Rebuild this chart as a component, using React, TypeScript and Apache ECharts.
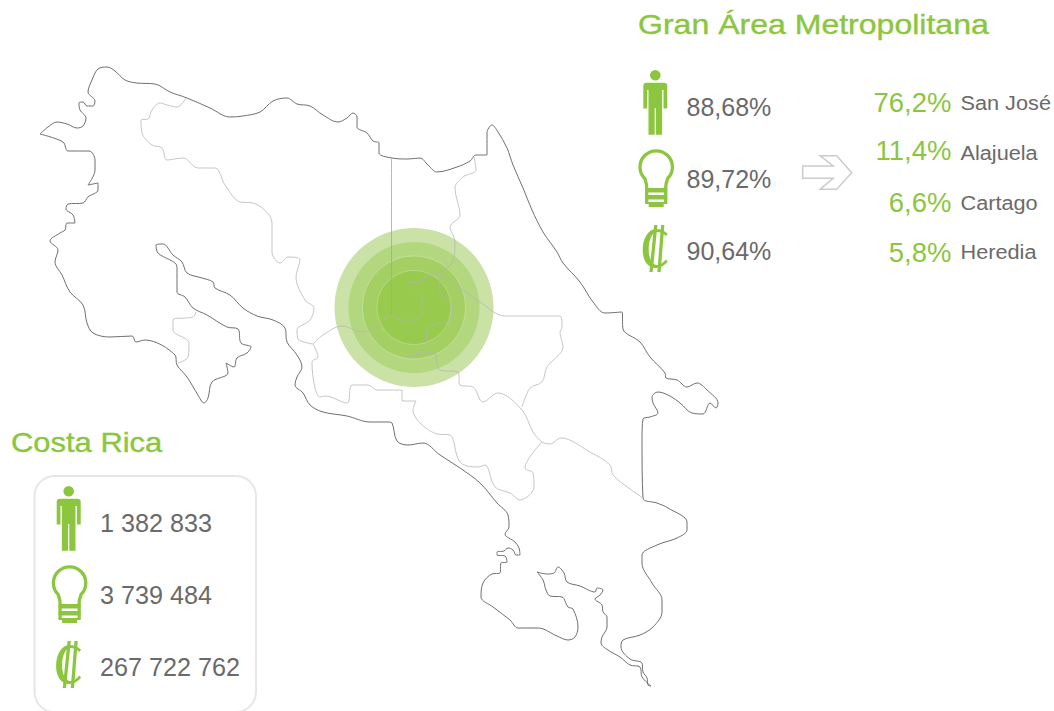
import React, { useEffect, useRef } from "react";
import * as echarts from "echarts";

const GREEN = "#8cc63f";
const TEXT = "#6a6a6a";

const titleMetro = "Gran Área Metropolitana";
const titleCountry = "Costa Rica";
const metroShares = ["88,68%", "89,72%", "90,64%"];
const countryTotals = ["1 382 833", "3 739 484", "267 722 762"];
const provincePercents = ["76,2%", "11,4%", "6,6%", "5,8%"];
const provinceNames = ["San José", "Alajuela", "Cartago", "Heredia"];

const bubbleCenter = [414, 307.5];
const bubbleDiameters = [159, 131, 103, 74];
const bubbleColors = ["#cbe2a7", "#b3d77f", "#a4cf63", "#98ca4e"];

const coast: number[][] = [
  [40,134],[48,127],[57,122],[67,124],[77,128],[83,126],[86,118],[80,110],[79,103],[83,102],[87,106],[93,106],[95,101],[88,92],[92,80],[98,69],[107,67],[115,71],[125,80],[137,83],[155,84],[170,92],[187,98],[210,108],[230,117],[243,116],[260,112],[273,101],[287,98],[297,104],[310,106],[323,115],[338,122],[347,118],[353,113],[357,117],[357,127],[367,133],[373,141],[379,143],[379,153],[392,158],[408,159],[420,158],[428,165],[437,172],[457,167],[470,161],[476,155],[487,155],[487,133],[492,125],[498,132],[507,148],[513,165],[523,188],[532,210],[543,232],[557,252],[563,263],[580,282],[593,302],[605,313],[622,312],[623,329],[640,342],[650,357],[665,373],[666,378],[677,380],[687,387],[697,383],[707,390],[718,403],[716,408],[710,403],[703,414],[692,413],[680,403],[670,396],[658,392],[652,397],[653,403],[658,413],[650,417],[643,419],[642,440],[643,498],[657,503],[668,508],[687,522],[687,530],[677,538],[657,545],[642,555],[642,563],[652,583],[662,600],[662,612],[653,627],[640,635],[623,640],[621,647],[630,659],[642,663],[643,672],[647,678],[648,685],[651,686],[642,677],[640,667],[630,665],[620,657],[608,650],[601,643],[602,637],[607,627],[607,617],[603,612],[602,605],[595,599],[600,595],[603,590],[597,588],[595,592],[580,586],[567,582],[564,573],[558,567],[554,573],[547,574],[537,572],[543,580],[546,590],[550,596],[562,597],[568,607],[573,609],[578,627],[575,637],[568,640],[557,636],[538,628],[518,628],[510,620],[493,607],[481,597],[483,583],[492,574],[500,573],[501,563],[507,562],[505,556],[497,555],[497,552],[504,551],[508,548],[513,550],[516,555],[520,555],[519,548],[515,542],[505,534],[509,527],[508,515],[497,503],[480,483],[460,468],[440,455],[423,443],[408,445],[397,441],[392,423],[388,422],[370,422],[347,416],[323,412],[310,405],[303,393],[295,385],[297,377],[302,367],[297,355],[287,342],[285,328],[273,320],[257,316],[243,308],[230,295],[215,288],[213,282],[202,278],[187,273],[182,262],[173,255],[163,244],[156,245],[158,253],[177,267],[177,292],[185,297],[193,308],[207,315],[227,327],[238,329],[241,343],[251,347],[247,353],[237,358],[234,367],[226,363],[228,373],[212,382],[208,398],[204,403],[198,395],[187,377],[177,365],[175,355],[145,340],[136,342],[132,336],[110,337],[93,333],[87,323],[83,305],[70,292],[62,275],[55,262],[58,250],[50,241],[60,233],[65,230],[67,223],[75,223],[73,215],[66,209],[68,204],[83,203],[88,197],[98,190],[98,183],[93,184],[88,185],[95,170],[95,160],[89,151],[68,151],[63,142],[40,134],
];
const borderNorthWest: number[][] = [
  [186,98],[177,107],[167,105],[160,103],[152,110],[148,119],[141,120],[142,133],[152,145],[162,148],[167,160],[183,158],[198,168],[215,168],[225,185],[240,202],[253,203],[272,223],[272,252],[280,263],[288,257],[300,260],[296,277],[305,300],[314,308],[310,320],[297,330],[298,339],[313,344],
];
const borderCentral: number[][] = [
  [313,344],[323,335],[342,326],[363,332],[377,327],[390,315],[407,322],[422,313],[422,300],[408,283],[420,282],[430,274],[440,275],[463,290],[480,302],[505,316],[560,316],[562,327],[560,332],[563,347],[547,367],[542,382],[530,388],[522,407],
];
const borderHeredia: number[][] = [[391.5,158],[391.5,315]];
const borderEast: number[][] = [
  [474,157],[476,170],[463,177],[455,188],[460,215],[450,227],[455,242],[452,263],[440,275],[439,287],[453,310],[450,320],[428,328],[425,347],[410,357],[433,352],[440,370],[458,372],[460,385],[473,387],[483,402],[498,393],[522,410],[533,432],[542,442],[550,444],[561,438],[590,452],[610,465],[613,475],[630,489],[643,498],
];
const borderSouth: number[][] = [
  [542,442],[525,468],[533,473],[534,487],[520,500],[510,493],[495,487],[485,465],[478,467],[460,462],[450,435],[437,434],[413,410],[416,401],[402,401],[402,390],[377,390],[368,385],[352,385],[347,403],[325,396],[320,397],[315,388],[312,362],[318,357],[313,344],
];
const borderNicoya: number[][] = [
  [196,312],[193,317],[173,320],[173,330],[189,343],[188,357],[178,363],
];
const innerBorders = [borderNorthWest, borderCentral, borderEast, borderSouth, borderNicoya];

const personPath =
  "M17.3,5.3 a5.3,5.3 0 1,0 -10.6,0 a5.3,5.3 0 1,0 10.6,0 Z " +
  "M0,16 Q0,12.7 3.3,12.7 H20.7 Q24,12.7 24,16 V38.5 H20.2 V20 H18.8 V64.7 H12.6 V38 H11.4 V64.7 H5.2 V20 H3.8 V38.5 H0 Z";
const bulbOutline = "M-9.5,36 V20 Q-9.5,17 -11.5,11.4 A16.2,16.2 0 1 1 11.5,11.4 Q9.5,17 9.5,20 V36";
const bulbBars =
  "M-11,21 H11 V25.5 H-11 Z M-11,28 H11 V32.5 H-11 Z M-11,35 H11 V37 H7.5 V40 H-7.5 V37 H-11 Z";
const colonCrescent =
  "M12.7,-16.3 C9,-20 5,-21 1,-21 C-7,-21 -12.3,-11 -12.3,0 C-12.3,11 -7,18 1,18 C6,18 10,15 12.7,11.5 L11,9.5 " +
  "C8,13 5,15 2,15 C-3,15 -6.3,8 -6.3,-1 C-6.3,-10 -3,-18 2,-18 C5.5,-18 8,-16.5 11,-14 Z";
const colonSlashes =
  "M-0.85,-25 H2.45 L-2.35,22 H-5.65 Z M6.05,-25 H9.35 L5.65,22 H2.35 Z";

echarts.graphic.registerShape("personIcon", echarts.graphic.extendPath(personPath, {}));
echarts.graphic.registerShape("bulbOutline", echarts.graphic.extendPath(bulbOutline, {}));
echarts.graphic.registerShape("bulbBars", echarts.graphic.extendPath(bulbBars, {}));
echarts.graphic.registerShape("colonCrescent", echarts.graphic.extendPath(colonCrescent, {}));
echarts.graphic.registerShape("colonSlashes", echarts.graphic.extendPath(colonSlashes, {}));

function iconSet(dx: number, dy: number): any[] {
  return [
    { type: "personIcon", x: 643.3 + dx, y: 70 + dy, style: { fill: GREEN } },
    { type: "bulbOutline", x: 656.2 + dx, y: 167 + dy, style: { fill: "none", stroke: GREEN, lineWidth: 3.3 } },
    { type: "bulbBars", x: 656.2 + dx, y: 167 + dy, style: { fill: GREEN } },
    { type: "colonCrescent", x: 655 + dx, y: 250 + dy, style: { fill: GREEN } },
    { type: "colonSlashes", x: 655 + dx, y: 250 + dy, style: { fill: GREEN } },
  ];
}

function label(text: string, x: number, y: number, size: number, fill: string, align = "left", scaleX = 1, bold = 0): any {
  return {
    type: "text",
    x,
    y,
    scaleX,
    style: {
      text,
      x: 0,
      y: 0,
      fill,
      fontSize: size,
      fontFamily: "'Liberation Sans', Arial, sans-serif",
      textAlign: align,
      textVerticalAlign: "middle",
      ...(bold ? { stroke: fill, lineWidth: bold } : {}),
    },
  };
}

function lineSeries(points: number[][], color: string, width: number): any {
  return {
    type: "line",
    data: points,
    smooth: 0.35,
    showSymbol: false,
    silent: true,
    z: 3,
    lineStyle: { color, width },
  };
}

export default function App() {
  const ref = useRef<HTMLDivElement>(null);
  useEffect(() => {
    const chart = echarts.init(ref.current!, undefined, { renderer: "svg" });
    const elements: any[] = [
      ...iconSet(0, 0),
      ...iconSet(-586.6, 416),
      {
        type: "rect",
        shape: { x: 34.5, y: 476, width: 221.5, height: 236, r: 20 },
        style: { fill: "none", stroke: "#e6e6e6", lineWidth: 2 },
      },
      {
        type: "polygon",
        shape: {
          points: [
            [802.7, 166], [833.3, 166], [820, 155.7], [836.7, 155.7], [851.7, 172.7],
            [836.7, 189.3], [820, 189.3], [833.3, 178.3], [802.7, 178.3],
          ],
        },
        style: { fill: "none", stroke: "#cccccc", lineWidth: 1.5 },
      },
      label(titleMetro, 638, 24, 28, GREEN, "left", 1.145, 0.4),
      label(titleCountry, 11, 442, 28, GREEN, "left", 1.105, 0.4),
    ];
    metroShares.forEach((t, i) => elements.push(label(t, 686.5, 107 + i * 72, 25, TEXT)));
    countryTotals.forEach((t, i) => elements.push(label(t, 100, 523 + i * 72, 25, TEXT, "left", 1.008)));
    const pctY = [102.5, 150.5, 202, 252.5];
    const nameY = [103, 152.5, 202.5, 252];
    provincePercents.forEach((t, i) => elements.push(label(t, 951.5, pctY[i], 27.5, GREEN, "right")));
    provinceNames.forEach((t, i) => elements.push(label(t, 960.5, nameY[i], 20, TEXT, "left", 1.085)));

    chart.setOption({
      animation: false,
      backgroundColor: "#ffffff",
      grid: { left: 0, right: 0, top: 0, bottom: 0 },
      xAxis: { type: "value", min: 0, max: 1054, show: false },
      yAxis: { type: "value", min: 0, max: 711, inverse: true, show: false },
      series: [
        ...bubbleDiameters.map((d, i) => ({
          type: "scatter",
          data: [bubbleCenter],
          symbol: "circle",
          symbolSize: d,
          silent: true,
          z: 2,
          itemStyle: {
            color: bubbleColors[i],
            opacity: 1,
            borderColor: i >= 2 ? "rgba(255,255,255,0.3)" : "transparent",
            borderWidth: i >= 2 ? 0.8 : 0,
          },
        })),
        lineSeries(coast, "#6f6f6f", 1),
        ...innerBorders.map((b) => lineSeries(b, "rgba(180,180,180,0.85)", 0.9)),
        lineSeries(borderHeredia, "rgba(165,165,165,0.8)", 1),
      ],
      graphic: { elements },
    });
    return () => chart.dispose();
  }, []);
  return (
    <div
      ref={ref}
      style={{ position: "absolute", left: 0, top: 0, width: 1054, height: 711, overflow: "hidden" }}
    />
  );
}
